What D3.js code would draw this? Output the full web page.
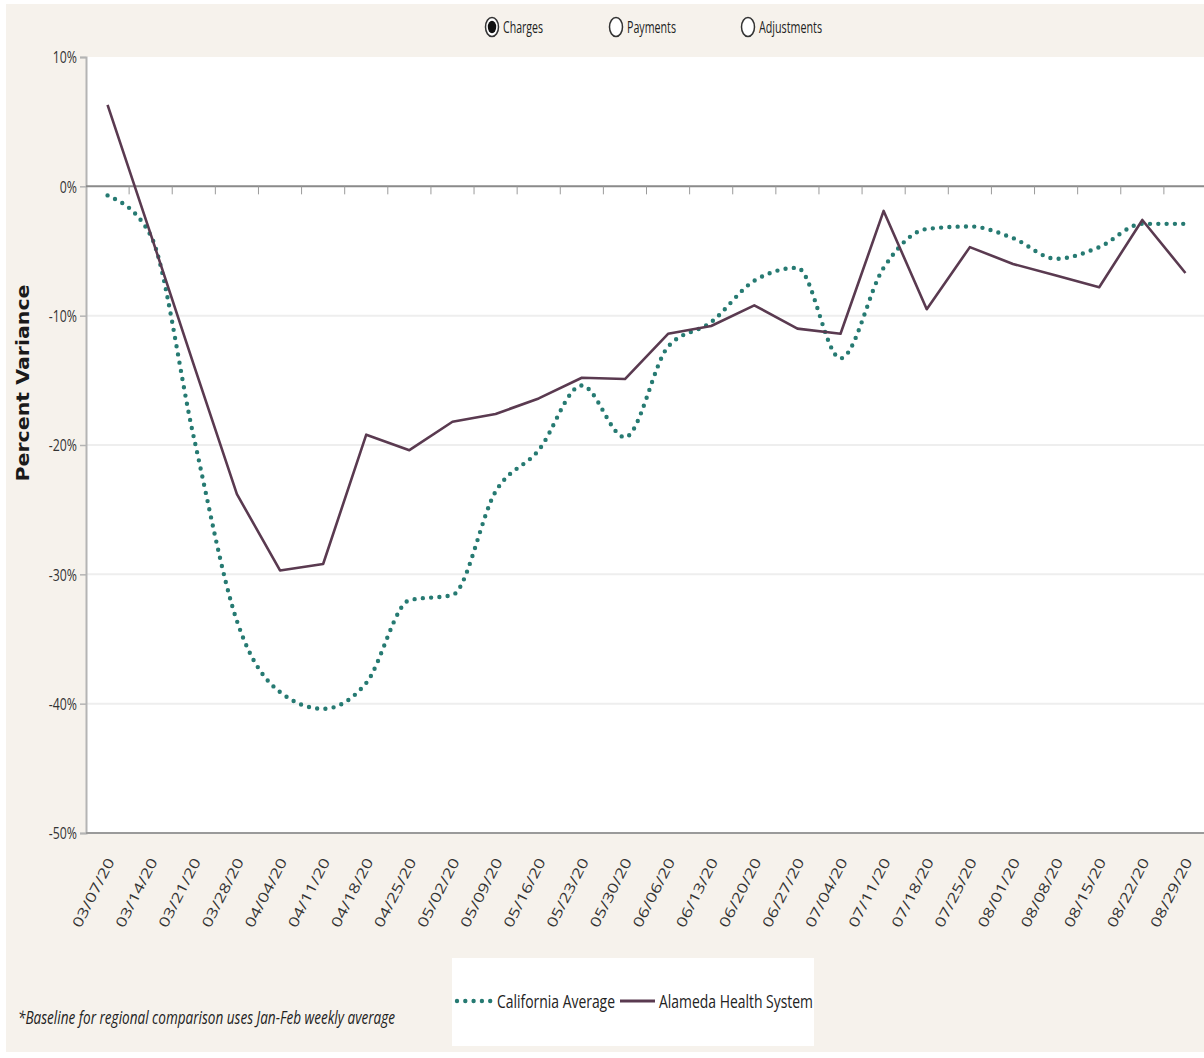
<!DOCTYPE html>
<html>
<head>
<meta charset="utf-8">
<script src="https://cdn.jsdelivr.net/npm/d3@7"></script>
<style>
  html, body { margin: 0; padding: 0; background: #ffffff; }
  svg { display: block; }
  text { font-family: "Open Sans", "DejaVu Sans", sans-serif; fill: #222; }
</style>
</head>
<body>
<svg id="chart" width="1204" height="1058"></svg>
<script>
// Weekly categories (week ending)
const weeks = [
  "03/07/20", "03/14/20", "03/21/20", "03/28/20", "04/04/20", "04/11/20",
  "04/18/20", "04/25/20", "05/02/20", "05/09/20", "05/16/20", "05/23/20",
  "05/30/20", "06/06/20", "06/13/20", "06/20/20", "06/27/20", "07/04/20",
  "07/11/20", "07/18/20", "07/25/20", "08/01/20", "08/08/20", "08/15/20",
  "08/22/20", "08/29/20"
];

// Percent variance vs. Jan-Feb weekly baseline
const californiaAverage = [
  -0.7, -3.8, -19.4, -33.6, -39.1, -40.4, -38.4, -32.0, -31.6, -23.6,
  -20.4, -15.4, -19.4, -12.4, -10.5, -7.3, -6.3, -13.3, -6.3, -3.3,
  -3.1, -4.0, -5.6, -4.7, -2.9, -2.9
];
const alamedaHealthSystem = [
  6.3, -3.7, -13.8, -23.8, -29.7, -29.2, -19.2, -20.4, -18.2, -17.6,
  -16.4, -14.8, -14.9, -11.4, -10.8, -9.2, -11.0, -11.4, -1.9, -9.5,
  -4.7, -6.0, -6.9, -7.8, -2.6, -6.7
];

const yTicks = [10, 0, -10, -20, -30, -40, -50];
const measureOptions = ["Charges", "Payments", "Adjustments"];
const selectedMeasure = "Charges";
const seriesNames = ["California Average", "Alameda Health System"];
const footnote = "*Baseline for regional comparison uses Jan-Feb weekly average";
const yTitle = "Percent Variance";

const TEAL = "#267a72";
const PLUM = "#5a3a50";

const svg = d3.select("#chart");

// Page panel
svg.append("rect").attr("x", 6).attr("y", 4).attr("width", 1198).attr("height", 1048)
  .attr("fill", "#f6f2ec");

const plot = { left: 86, top: 57, bottom: 833, right: 1207 };

// Scales
const x = d3.scaleBand().domain(weeks).range([plot.left, plot.right]).padding(0);
const cx = d => x(d) + x.bandwidth() / 2;
const y = d3.scaleLinear().domain([-50, 10]).range([plot.bottom, plot.top]);

// Plot area
svg.append("rect")
  .attr("x", plot.left).attr("y", plot.top)
  .attr("width", 1204 - plot.left).attr("height", plot.bottom - plot.top)
  .attr("fill", "#ffffff");

// Gridlines
svg.append("g").selectAll("line")
  .data(yTicks.filter(t => t < 0 && t > -50))
  .join("line")
  .attr("x1", plot.left).attr("x2", 1204)
  .attr("y1", d => y(d)).attr("y2", d => y(d))
  .attr("stroke", "#eeeeee").attr("stroke-width", 2);

// Y axis
const yAxis = svg.append("g")
  .attr("transform", `translate(${plot.left},0)`)
  .call(d3.axisLeft(y).tickValues(yTicks).tickSize(6).tickPadding(0)
    .tickFormat(d => d + "%"));
yAxis.select(".domain").attr("stroke", "#b4b4b4").attr("stroke-width", 2);
yAxis.selectAll(".tick line").attr("stroke", "#b4b4b4").attr("stroke-width", 1.5);
yAxis.selectAll(".tick text")
  .attr("x", 0).attr("dy", "0.36em")
  .attr("transform", "translate(-9,0) scale(0.77,1)")
  .style("font-size", "16px").style("fill", "#333")
  .style("font-family", "'Open Sans', sans-serif");

// Bottom axis with rotated week labels
const xAxis = svg.append("g")
  .attr("transform", `translate(0,${plot.bottom})`)
  .call(d3.axisBottom(x).tickSize(0).tickPadding(0));
xAxis.select(".domain").attr("d", `M${plot.left},0H1204`)
  .attr("stroke", "#9a9a9a").attr("stroke-width", 2);
xAxis.selectAll(".tick text")
  .attr("x", 0).attr("y", 0).attr("dy", "0.35em")
  .attr("text-anchor", "end")
  .attr("transform", "translate(3,26) rotate(-63) scale(1.3,1)")
  .style("font-size", "14px").style("fill", "#333")
  .style("font-family", "'Open Sans', sans-serif");

// Zero line with week boundary ticks
svg.append("line")
  .attr("x1", plot.left).attr("x2", 1204)
  .attr("y1", y(0)).attr("y2", y(0))
  .attr("stroke", "#8a8a8a").attr("stroke-width", 2);
svg.append("g").selectAll("line")
  .data(weeks.slice(1))
  .join("line")
  .attr("x1", d => x(d)).attr("x2", d => x(d))
  .attr("y1", y(0)).attr("y2", y(0) + 8)
  .attr("stroke", "#9a9a9a").attr("stroke-width", 1);

// Series lines
const caLine = d3.line()
  .x((d, i) => cx(weeks[i])).y(d => y(d))
  .curve(d3.curveMonotoneX);
const ahsLine = d3.line()
  .x((d, i) => cx(weeks[i])).y(d => y(d));

svg.append("path")
  .datum(californiaAverage)
  .attr("d", caLine)
  .attr("fill", "none")
  .attr("stroke", TEAL).attr("stroke-width", 4.4)
  .attr("stroke-linecap", "round")
  .attr("stroke-dasharray", "0 8.3");

svg.append("path")
  .datum(alamedaHealthSystem)
  .attr("d", ahsLine)
  .attr("fill", "none")
  .attr("stroke", PLUM).attr("stroke-width", 2.6)
  .attr("stroke-linejoin", "round");

// Y axis title
svg.append("text")
  .attr("transform", "translate(29,383) rotate(-90)")
  .attr("text-anchor", "middle")
  .attr("textLength", 197).attr("lengthAdjust", "spacingAndGlyphs")
  .style("font-family", "'DejaVu Sans', sans-serif")
  .style("font-weight", "bold").style("font-size", "17px").style("fill", "#1a1a1a")
  .text(yTitle);

// Measure selector
const radioX = [492, 616, 748];
const radioTextLen = [40, 49, 63];
const radios = svg.append("g").selectAll("g")
  .data(measureOptions)
  .join("g")
  .attr("transform", (d, i) => `translate(${radioX[i]},27)`);
radios.append("ellipse")
  .attr("rx", 6.5).attr("ry", 9.5)
  .attr("fill", "#ffffff").attr("stroke", "#333").attr("stroke-width", 1.5);
radios.filter(d => d === selectedMeasure).append("ellipse")
  .attr("rx", 4.2).attr("ry", 6.2).attr("fill", "#111");
radios.append("text")
  .attr("x", 11).attr("dy", "0.35em")
  .attr("textLength", (d, i) => radioTextLen[i]).attr("lengthAdjust", "spacingAndGlyphs")
  .style("font-size", "17px").style("fill", "#222")
  .text(d => d);

// Legend
const legend = svg.append("g");
legend.append("rect").attr("x", 452).attr("y", 958).attr("width", 362).attr("height", 88)
  .attr("fill", "#ffffff");
legend.append("line")
  .attr("x1", 457).attr("x2", 492).attr("y1", 1001).attr("y2", 1001)
  .attr("stroke", TEAL).attr("stroke-width", 4.4)
  .attr("stroke-linecap", "round").attr("stroke-dasharray", "0 8.3");
legend.append("text")
  .attr("x", 497).attr("y", 1001).attr("dy", "0.35em")
  .attr("textLength", 118).attr("lengthAdjust", "spacingAndGlyphs")
  .style("font-size", "19px").style("fill", "#222")
  .text(seriesNames[0]);
legend.append("line")
  .attr("x1", 620).attr("x2", 655).attr("y1", 1001).attr("y2", 1001)
  .attr("stroke", PLUM).attr("stroke-width", 3);
legend.append("text")
  .attr("x", 659).attr("y", 1001).attr("dy", "0.35em")
  .attr("textLength", 154).attr("lengthAdjust", "spacingAndGlyphs")
  .style("font-size", "19px").style("fill", "#222")
  .text(seriesNames[1]);

// Footnote
svg.append("text")
  .attr("x", 18).attr("y", 1018).attr("dy", "0.35em")
  .attr("textLength", 377).attr("lengthAdjust", "spacingAndGlyphs")
  .style("font-size", "18px").style("font-style", "italic").style("fill", "#222")
  .text(footnote);
</script>
</body>
</html>
